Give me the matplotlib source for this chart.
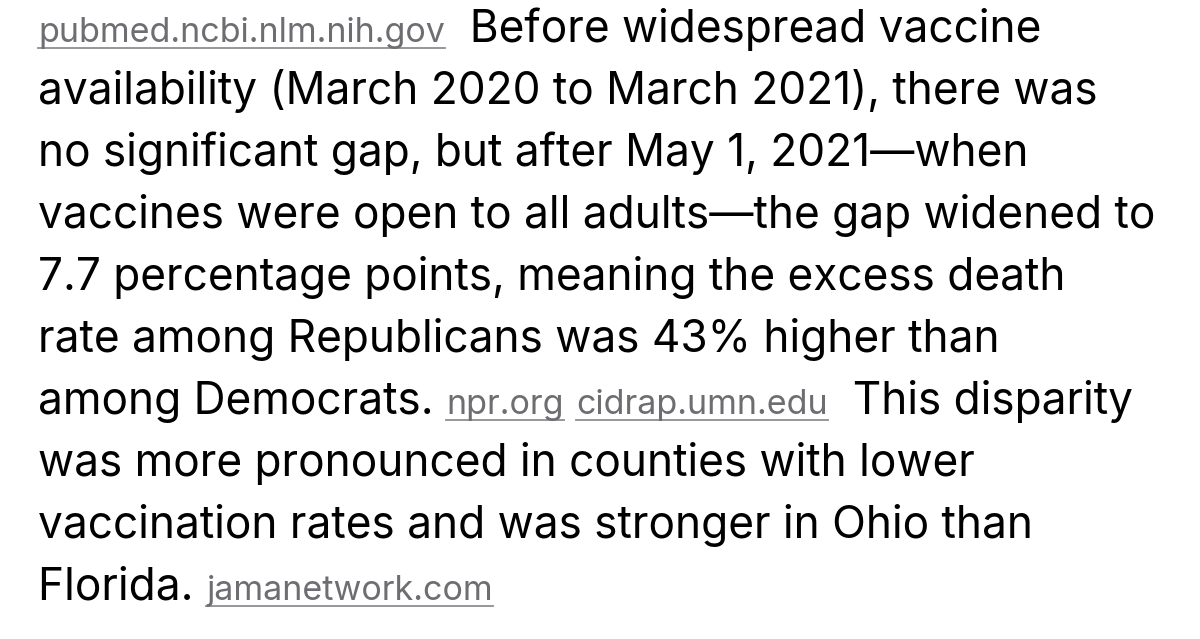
import matplotlib.pyplot as plt

# each line is a list of (text, is_link) runs
lines = [
    [("pubmed.ncbi.nlm.nih.gov", True), ("  Before widespread vaccine", False)],
    [("availability (March 2020 to March 2021), there was", False)],
    [("no significant gap, but after May 1, 2021\u2014when", False)],
    [("vaccines were open to all adults\u2014the gap widened to", False)],
    [("7.7 percentage points, meaning the excess death", False)],
    [("rate among Republicans was 43% higher than", False)],
    [("among Democrats. ", False), ("npr.org", True), (" ", False),
     ("cidrap.umn.edu", True), ("  This disparity", False)],
    [("was more pronounced in counties with lower", False)],
    [("vaccination rates and was stronger in Ohio than", False)],
    [("Florida. ", False), ("jamanetwork.com", True)],
]

W, H = 1200, 639
fig = plt.figure(figsize=(W / 100, H / 100), dpi=100)
ax = fig.add_axes([0, 0, 1, 1])
ax.set_xlim(0, W)
ax.set_ylim(H, 0)
ax.axis("off")
fig.canvas.draw()
renderer = fig.canvas.get_renderer()
inv = ax.transData.inverted()

family = ["Inter", "DejaVu Sans"]
x0, y0, step = 38, 42, 62
for i, runs in enumerate(lines):
    x = x0
    y = y0 + i * step
    for txt, link in runs:
        t = ax.text(x, y, txt, fontsize=24.5 if link else 31.8, family=family,
                    color="#6d6d72" if link else "#000000",
                    va="baseline", ha="left")
        bb = t.get_window_extent(renderer)
        (xa, _), (xb, _) = inv.transform([[bb.x0, bb.y0], [bb.x1, bb.y1]])
        if link:
            ax.plot([xa, xb], [y + 6, y + 6], color="#8e8e93", lw=1.3)
        x = xb

fig.savefig("out.png", dpi=100, facecolor="white")
